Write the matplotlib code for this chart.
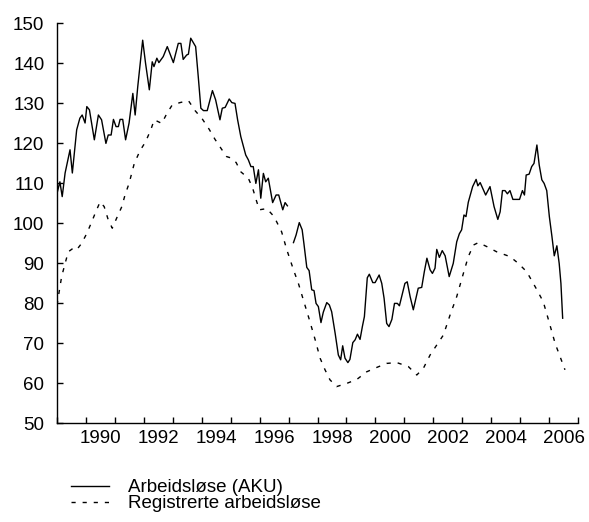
import matplotlib
matplotlib.use("Agg")
import matplotlib.pyplot as plt
import numpy as np

plt.rcParams['font.family'] = ['Liberation Sans', 'DejaVu Sans']

# Arbeidsløse (AKU), 1000 personer; time as years since Jan 1989
aku1_t = [0.00, 0.10, 0.18, 0.28, 0.45, 0.53, 0.68, 0.79, 0.87, 0.97, 1.03, 1.12, 1.29, 1.43,
          1.54, 1.69, 1.77, 1.87, 1.95, 2.04, 2.12, 2.18, 2.27, 2.37, 2.49, 2.62, 2.70, 2.79,
          2.96, 3.06, 3.19, 3.29, 3.35, 3.45, 3.52, 3.67, 3.81, 4.02, 4.19, 4.28, 4.36, 4.48,
          4.54, 4.62, 4.79, 4.88, 4.97, 5.06, 5.19, 5.37, 5.48, 5.63, 5.71, 5.81, 5.95, 6.04,
          6.15, 6.24, 6.35, 6.52, 6.61, 6.70, 6.78, 6.87, 6.96, 7.04, 7.13, 7.21, 7.30, 7.45,
          7.57, 7.66, 7.80, 7.88, 7.96]
aku1_v = [107.4, 110.3, 106.6, 112.5, 118.3, 112.5, 123.3, 126.2, 127.0, 125.0, 129.1, 128.3, 120.8, 127.0,
          125.8, 119.9, 122.0, 122.0, 125.9, 124.1, 124.1, 125.9, 125.9, 120.8, 125.0, 132.4, 127.0, 134.1,
          145.7, 139.9, 133.3, 140.3, 139.1, 141.2, 140.1, 141.6, 144.1, 140.1, 144.9, 144.9, 140.9, 142.0,
          142.2, 146.2, 144.1, 136.6, 128.7, 128.1, 128.1, 133.1, 130.8, 125.8, 128.7, 128.9, 131.0, 130.1,
          129.9, 125.8, 121.6, 117.0, 115.8, 114.1, 114.1, 109.9, 113.3, 106.2, 112.4, 110.3, 111.2, 105.1,
          107.0, 107.0, 103.3, 105.1, 104.3]

aku2_t = [8.17, 8.26, 8.37, 8.47, 8.53, 8.63, 8.71, 8.80, 8.88, 8.95, 9.03, 9.12, 9.20, 9.32,
          9.41, 9.49, 9.61, 9.72, 9.80, 9.87, 9.95, 10.05, 10.12, 10.22, 10.30, 10.38, 10.47, 10.55,
          10.62, 10.72, 10.79, 10.91, 10.99, 11.13, 11.22, 11.30, 11.39, 11.47, 11.57, 11.66, 11.76, 11.83,
          12.02, 12.10, 12.20, 12.31, 12.48, 12.60, 12.69, 12.78, 12.89, 12.97, 13.06, 13.12, 13.21, 13.31,
          13.41, 13.55, 13.69, 13.81, 13.90, 13.98, 14.06, 14.13, 14.21, 14.36, 14.48, 14.54, 14.62, 14.81,
          14.96, 15.10, 15.23, 15.31, 15.39, 15.48, 15.56, 15.65, 15.75, 15.98, 16.08, 16.15, 16.21, 16.31,
          16.40, 16.48, 16.58, 16.66, 16.75, 16.83, 16.92, 17.01, 17.10, 17.18, 17.27, 17.35, 17.41, 17.47]
aku2_v = [95.1, 97.0, 100.1, 98.3, 94.9, 88.9, 88.1, 83.3, 83.1, 79.9, 79.1, 75.1, 77.7, 80.1,
          79.5, 77.8, 72.4, 67.0, 65.8, 69.3, 66.2, 65.1, 65.9, 70.1, 70.8, 72.2, 70.9, 74.1,
          76.6, 86.3, 87.2, 85.1, 85.1, 87.0, 84.9, 81.2, 74.9, 74.1, 75.9, 79.9, 79.9, 79.3,
          84.9, 85.3, 81.6, 78.3, 83.7, 83.9, 87.8, 91.2, 88.3, 87.4, 88.7, 93.4, 91.4, 93.1,
          91.8, 86.6, 89.9, 95.3, 97.3, 98.3, 102.0, 101.6, 105.2, 109.1, 110.9, 109.3, 110.1, 107.0,
          109.1, 104.1, 100.9, 102.8, 108.1, 108.1, 107.3, 108.1, 105.9, 105.9, 108.1, 107.0, 112.0, 112.2,
          114.1, 114.9, 119.5, 114.5, 110.8, 109.9, 108.1, 101.6, 96.6, 91.8, 94.3, 89.9, 84.9, 76.2]

# Registrerte arbeidsløse
reg_t = [0.00, 0.16, 0.28, 0.39, 0.56, 0.68, 0.85, 1.03, 1.20, 1.34, 1.49, 1.63, 1.77, 1.91,
         2.06, 2.24, 2.35, 2.49, 2.67, 2.87, 3.06, 3.24, 3.36, 3.62, 3.79, 3.98, 4.25, 4.54,
         4.77, 5.03, 5.26, 5.46, 5.69, 5.86, 6.04, 6.19, 6.35, 6.61, 6.76, 6.88, 6.99, 7.25,
         7.50, 7.76, 7.94, 8.17, 8.34, 8.51, 8.72, 8.92, 9.09, 9.26, 9.43, 9.66, 10.01, 10.36,
         10.70, 11.05, 11.39, 11.74, 12.14, 12.43, 12.66, 12.89, 13.12, 13.35, 13.58, 13.81, 14.04,
         14.21, 14.39, 14.56, 14.85, 15.19, 15.65, 15.94, 16.23, 16.58, 16.80, 16.98, 17.21, 17.38, 17.55]
reg_v = [79.5, 86.6, 89.9, 92.8, 93.7, 93.3, 94.9, 97.4, 100.3, 102.8, 105.3, 104.1, 100.8, 98.7,
         101.2, 104.1, 107.0, 109.9, 114.9, 118.1, 120.3, 123.3, 125.8, 124.9, 127.3, 129.5, 130.1, 130.6,
         128.1, 125.9, 123.4, 120.9, 118.4, 116.6, 116.2, 115.1, 112.8, 111.2, 108.7, 105.8, 103.3, 103.6,
         101.6, 97.8, 93.3, 88.3, 84.9, 80.8, 75.8, 70.8, 66.2, 63.3, 60.8, 59.1, 59.9, 60.9,
         62.8, 63.9, 64.9, 65.1, 64.1, 62.0, 63.7, 67.0, 69.5, 72.0, 77.0, 81.6, 87.4,
         91.6, 94.5, 95.1, 94.1, 92.8, 91.6, 89.9, 87.8, 83.3, 80.3, 75.8, 69.9, 66.6, 63.3]

start_year = 1989
year_labels = [1990, 1992, 1994, 1996, 1998, 2000, 2002, 2004, 2006]
y_ticks = [50, 60, 70, 80, 90, 100, 110, 120, 130, 140, 150]
labels = ["Arbeidsløse (AKU)", "Registrerte arbeidsløse"]
title = "1989-2006. 1000"

fig = plt.figure(figsize=(5.89, 5.22), dpi=100)
ax = fig.add_axes([57/589, 1 - 423/522, (578-57)/589, 400/522])

t1 = start_year + np.array(aku1_t)
t2 = start_year + np.array(aku2_t)
tr = start_year + np.array(reg_t)
l1, = ax.plot(t1, aku1_v, color='black', lw=1.0)
ax.plot(t2, aku2_v, color='black', lw=1.0)
l2, = ax.plot(tr, reg_v, color='black', lw=1.0, linestyle=(0, (3, 5)))

ax.set_xlim(1989, 2007)
ax.set_ylim(50, 150)
ax.set_yticks(y_ticks)
ax.set_xticks(np.arange(1989, 2008, 1))
ax.set_xticklabels([])
ax.set_xticks([y + 0.5 for y in year_labels], minor=True)
ax.set_xticklabels([str(y) for y in year_labels], minor=True)
ax.tick_params(axis='x', which='major', direction='in', length=4, width=1)
ax.tick_params(axis='x', which='minor', length=0, pad=5, labelsize=13.5)
ax.tick_params(axis='y', direction='in', length=4, width=1, pad=9, labelsize=13.5)
for s in ['top', 'right']:
    ax.spines[s].set_visible(False)
for s in ['left', 'bottom']:
    ax.spines[s].set_linewidth(1.0)

fig.legend([l1, l2], labels, loc='upper left', bbox_to_anchor=(71/589, 1 - 479/522),
           frameon=False, fontsize=13.5, handlelength=2.0, handletextpad=1.05,
           labelspacing=-0.05, borderpad=0, borderaxespad=0)

fig.text(18/589, 1 + 5/522, title, fontsize=13.5, fontweight='bold', va='center', ha='left')

fig.savefig("out.png", dpi=100)
